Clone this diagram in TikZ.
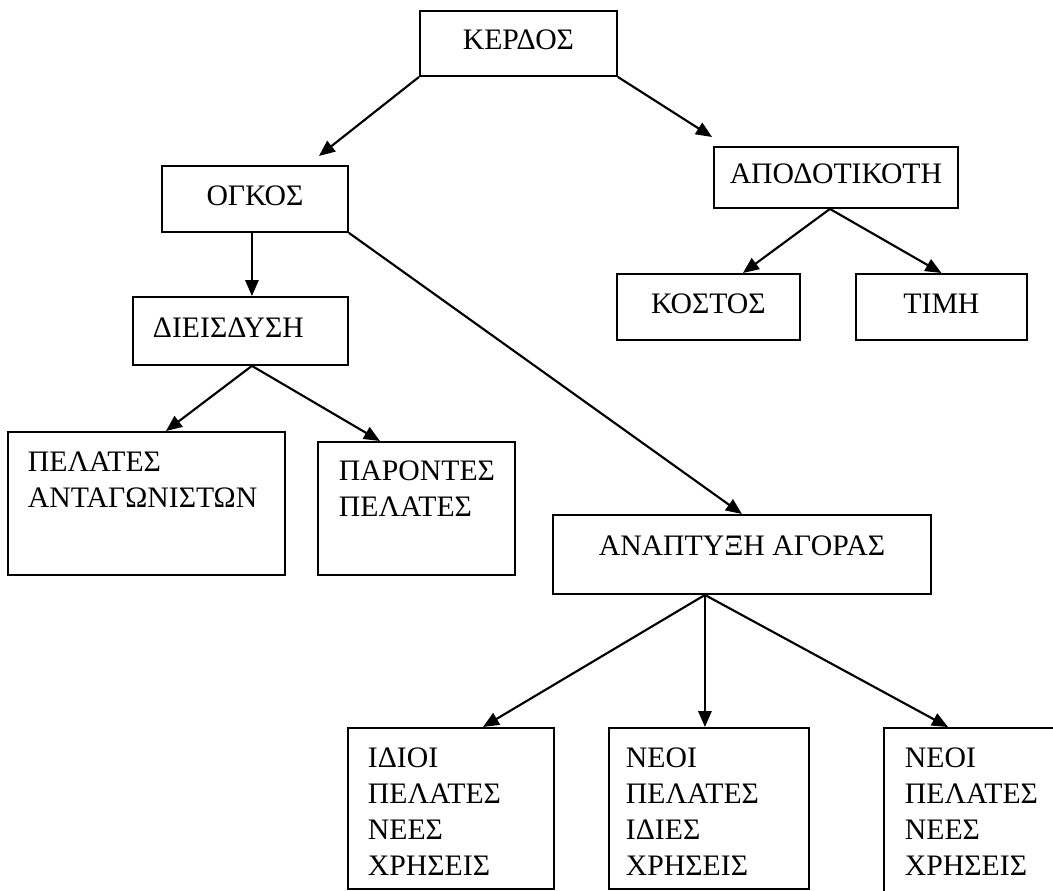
\documentclass[tikz,border=0pt]{standalone}
\usepackage{fontspec}
\setmainfont{Liberation Serif}
\usetikzlibrary{arrows.meta,calc}

\begin{document}
\begin{tikzpicture}[x=0.75pt,y=-0.75pt,
        box/.style={draw, line width=1.4pt, anchor=north west, inner xsep=0pt, inner ysep=0pt,
            font=\fontsize{22.3pt}{27pt}\selectfont, align=center},
        leftbox/.style={box, align=left},
        link/.style={line width=1.6pt, -{Triangle[length=12pt,width=10pt]}}]
        \useasboundingbox (0,0) rectangle (1053,890);

        % Draw the top box
        \node[box, minimum width=147.75pt, text height=29.2pt, text depth=19.6pt] (kerdos) at (419,10) {ΚΕΡΔΟΣ};

        % Draw the second level
        \node[box, minimum width=139.5pt, text height=29.9pt, text depth=19.6pt] (ogkos) at (161,165) {ΟΓΚΟΣ};
        \node[box, minimum width=183pt, text height=27.7pt, text depth=18.1pt] (apod) at (713,146) {ΑΠΟΔΟΤΙΚΟΤΗ};

        % Draw the third level
        \node[leftbox, inner xsep=15pt, text width=131.25pt, text height=30.7pt, text depth=20.3pt] (dieis) at (132,296) {ΔΙΕΙΣΔΥΣΗ};
        \node[box, minimum width=137.25pt, text height=29.9pt, text depth=19.6pt] (kostos) at (616,273) {ΚΟΣΤΟΣ};
        \node[box, minimum width=128.25pt, text height=29.9pt, text depth=19.6pt] (timi) at (855,273) {ΤΙΜΗ};

        % Draw the customer boxes
        \node[leftbox, inner xsep=15pt, text width=177.75pt, text height=29.9pt, text depth=77.3pt] (pelant) at (7,431) {ΠΕΛΑΤΕΣ\\ ΑΝΤΑΓΩΝΙΣΤΩΝ};
        \node[leftbox, inner xsep=15.75pt, text width=116.25pt, text height=29.2pt, text depth=70.6pt] (paront) at (317,441) {ΠΑΡΟΝΤΕΣ\\ ΠΕΛΑΤΕΣ};
        \node[box, minimum width=283.5pt, text height=30.7pt, text depth=28.6pt] (anapt) at (552,514) {ΑΝΑΠΤΥΞΗ ΑΓΟΡΑΣ};

        % Draw the bottom row
        \node[leftbox, inner xsep=15pt, text width=124.5pt, text height=29.9pt, text depth=90.8pt] (idioi) at (347,727) {ΙΔΙΟΙ\\ ΠΕΛΑΤΕΣ\\ ΝΕΕΣ\\ ΧΡΗΣΕΙΣ};
        \node[leftbox, inner xsep=12.75pt, text width=124.5pt, text height=29.9pt, text depth=90.8pt] (neoi1) at (608,727) {ΝΕΟΙ\\ ΠΕΛΑΤΕΣ\\ ΙΔΙΕΣ\\ ΧΡΗΣΕΙΣ};
        \node[leftbox, inner xsep=15.75pt, text width=103pt, text height=29.9pt, text depth=96pt] (neoi2) at (883,727) {ΝΕΟΙ\\ ΠΕΛΑΤΕΣ\\ ΝΕΕΣ\\ ΧΡΗΣΕΙΣ};

        % Links from the top box
        \draw[link] (kerdos.south west) -- ($(ogkos.north)+(64,-9)$);
        \draw[link] (kerdos.south east) -- ($(apod.north west)+(-1,-9)$);

        % Volume branch
        \coordinate (ogkosfoot) at ($(ogkos.south)+(-3,0)$);
        \draw[link] (ogkosfoot) -- (ogkosfoot |- dieis.north);
        \coordinate (dieisapex) at ($(dieis.south)+(11.5,0)$);
        \draw[link] (dieisapex) -- ($(pelant.north)+(19.5,0)$);
        \draw[link] (dieisapex) -- ($(paront.north)+(-36.5,0)$);
        \draw[link] (ogkos.south east) -- (anapt.north);

        % Profitability branch
        \coordinate (apodapex) at ($(apod.south)+(-6,0)$);
        \draw[link] (apodapex) -- ($(kostos.north)+(34.5,0)$);
        \draw[link] (apodapex) -- (timi.north);

        % Market development branch
        \coordinate (anaptapex) at ($(anapt.south)+(-37,0)$);
        \draw[link] (anaptapex) -- ($(idioi.north)+(32,0)$);
        \draw[link] (anaptapex) -- (anaptapex |- neoi1.north);
        \draw[link] (anaptapex) -- ($(neoi2.north west)+(65,0)$);
\end{tikzpicture}
\end{document}
